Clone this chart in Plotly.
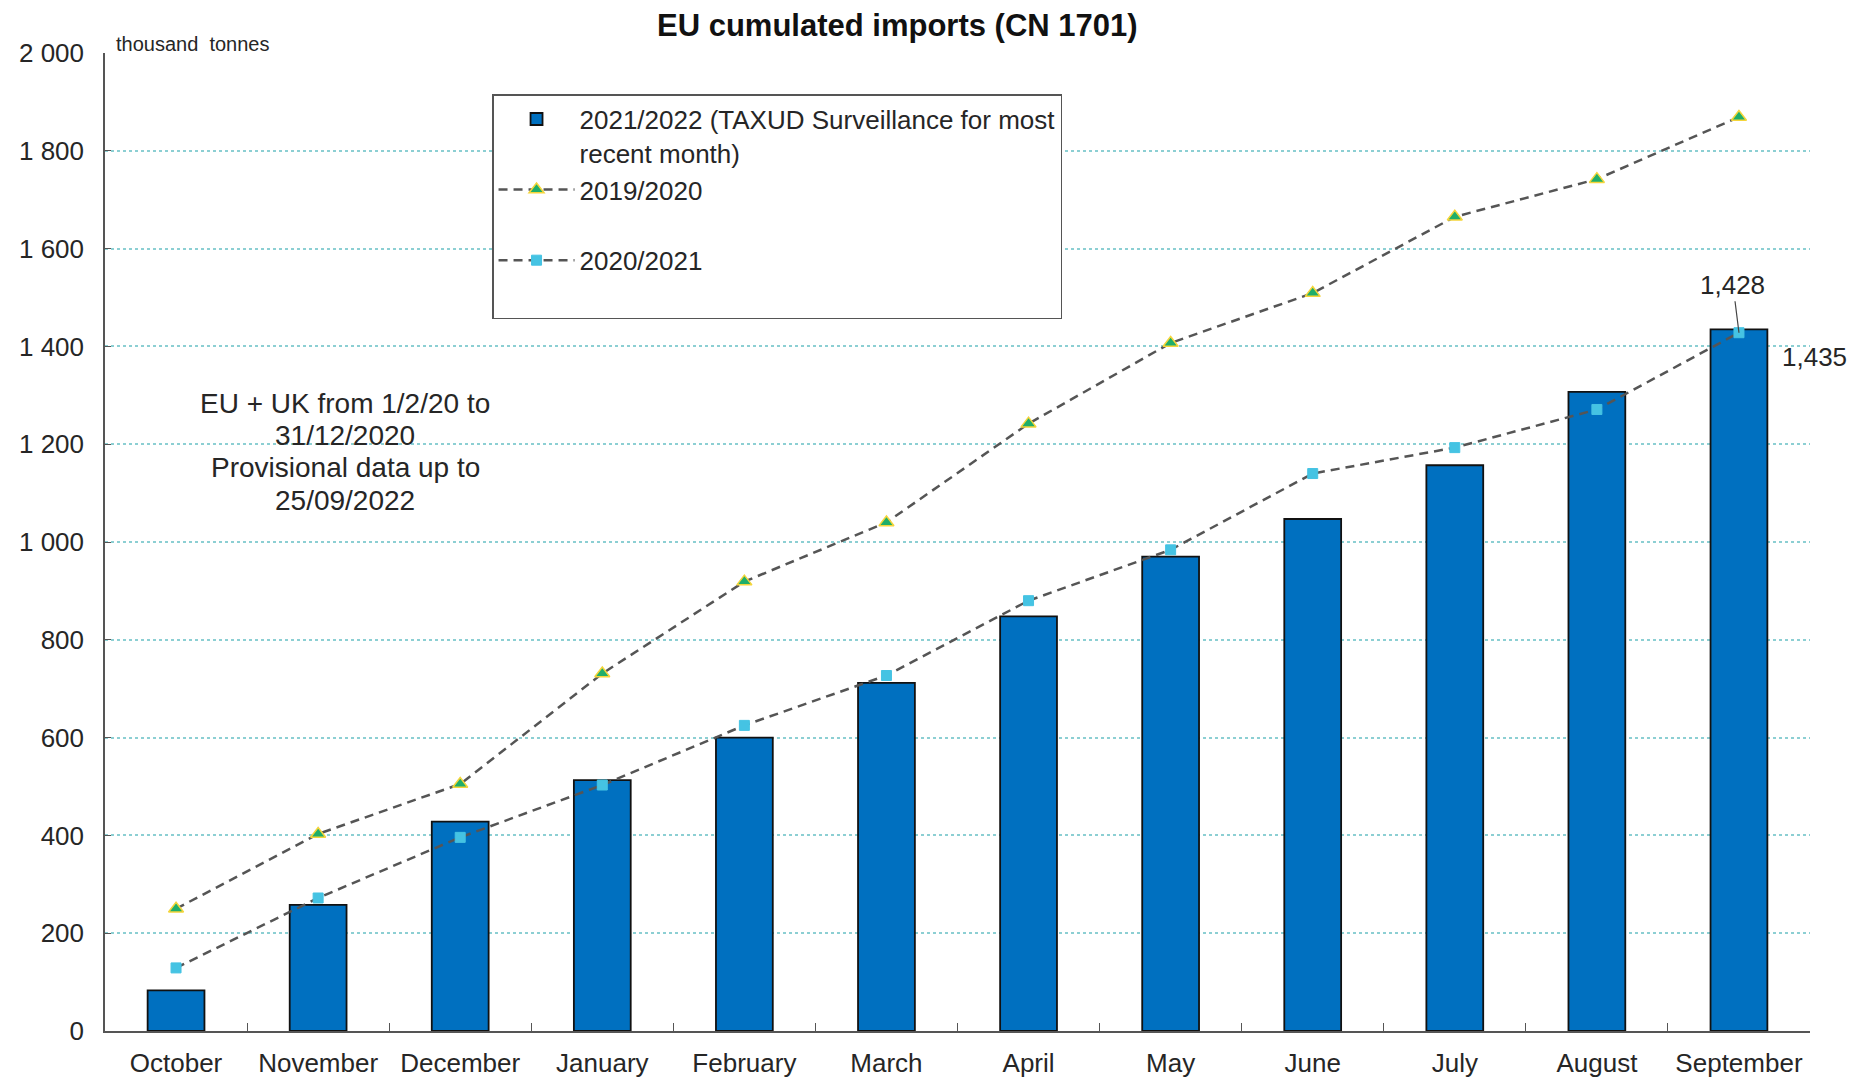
import plotly.graph_objects as go

months = ["October", "November", "December", "January", "February", "March",
          "April", "May", "June", "July", "August", "September"]
imports_2122 = [83, 258, 428, 513, 600, 712, 848, 970, 1047, 1157, 1307, 1435]
imports_1920 = [250, 403, 505, 731, 919, 1040, 1242, 1407, 1509, 1665, 1742, 1869]
imports_2021 = [129, 272, 396, 503, 625, 727, 880, 984, 1140, 1193, 1271, 1428]
y_ticks = [0, 200, 400, 600, 800, 1000, 1200, 1400, 1600, 1800, 2000]
y_ticktext = ["0", "200", "400", "600", "800", "1 000", "1 200", "1 400", "1 600", "1 800", "2 000"]
note_lines = ["EU + UK from 1/2/20 to", "31/12/2020", "Provisional data up to", "25/09/2022"]
note_y = [1283, 1218, 1152, 1084]

FONT = "Liberation Sans, Arial, sans-serif"
TXT = "#262626"

fig = go.Figure()
fig.add_trace(go.Bar(
    x=months, y=imports_2122,
    name="2021/2022 (TAXUD Surveillance for most<br>recent month)",
    marker=dict(color="#0070C0", line=dict(color="#111111", width=1.8)),
    width=0.4,
))
fig.add_trace(go.Scatter(
    x=months, y=imports_1920, name="2019/2020<br> ",
    mode="lines+markers",
    line=dict(color="#555555", width=2.5, dash="9px,6px"),
    marker=dict(symbol="triangle-up", size=13, color="#1fae6a",
                line=dict(color="#f5d53a", width=1.5)),
))
fig.add_trace(go.Scatter(
    x=months, y=imports_2021, name="2020/2021<br> ",
    mode="lines+markers",
    line=dict(color="#555555", width=2.5, dash="9px,6px"),
    marker=dict(symbol="square", size=10, color="#45c3e3",
                line=dict(color="#45c3e3", width=1)),
))

annotations = [
    dict(text="<b>EU cumulated imports (CN 1701)</b>", xref="paper", yref="paper",
         x=(897 - 105) / 1705, y=1.0, xanchor="center", yanchor="bottom",
         yshift=8, showarrow=False, font=dict(size=31, color="#111111")),
    dict(text="thousand  tonnes", xref="paper", yref="paper",
         x=(114 - 105) / 1705, y=1.0, xanchor="left", yanchor="bottom",
         yshift=-4, showarrow=False, font=dict(size=20, color=TXT)),
    dict(text="1,428", x="September", y=imports_2021[-1], xref="x", yref="y",
         showarrow=True, arrowhead=0, arrowwidth=1.2, arrowcolor="#444444",
         ax=-6, ay=-48, font=dict(size=26, color=TXT)),
    dict(text="1,435", x="September", y=imports_2122[-1], xref="x", yref="y",
         showarrow=False, xshift=76, yshift=-28, font=dict(size=26, color=TXT)),
]
for line, yv in zip(note_lines, note_y):
    annotations.append(dict(text=line, xref="paper", yref="y", x=(345 - 105) / 1705, y=yv,
                            xanchor="center", yanchor="middle", showarrow=False,
                            font=dict(size=28, color=TXT)))

fig.update_layout(
    width=1855, height=1070,
    margin=dict(l=97, r=53, t=45, b=47, autoexpand=False),
    plot_bgcolor="white", paper_bgcolor="white",
    font=dict(family=FONT, size=26, color=TXT),
    legend=dict(
        x=0.227, y=0.958, xanchor="left", yanchor="top",
        bordercolor="#555555", borderwidth=1.5, bgcolor="white",
        font=dict(family=FONT, size=26, color=TXT),
        valign="top", itemwidth=76, tracegroupgap=4,
    ),
    annotations=annotations,
)
fig.update_xaxes(
    range=[-0.5, 11.5], automargin=False,
    showline=True, linecolor="#555555", linewidth=1.5,
    ticks="inside", tickson="boundaries", ticklen=8, tickcolor="#555555",
    showgrid=False, tickfont=dict(size=26, color=TXT), ticklabelstandoff=8,
)
fig.update_yaxes(
    range=[0, 2000], tickvals=y_ticks, ticktext=y_ticktext, automargin=False,
    showline=True, linecolor="#555555", linewidth=1.5,
    ticks="inside", ticklen=6, tickcolor="#555555",
    showgrid=True, gridcolor="#8ccfd3", gridwidth=1.5, griddash="3px,3px",
    zeroline=False, tickfont=dict(size=26, color=TXT), ticklabelstandoff=14,
)

fig.write_html("out.html")
